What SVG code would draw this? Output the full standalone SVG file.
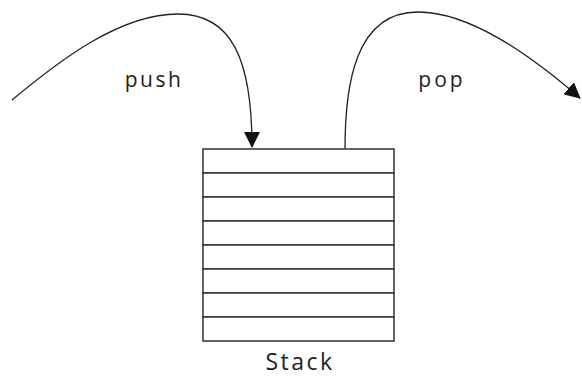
<svg xmlns="http://www.w3.org/2000/svg" width="582" height="377" viewBox="0 0 582 377">
  <style>
    .cell { fill: #ffffff; stroke: #333333; stroke-width: 1.5; }
    .flow { fill: none; stroke: #222222; stroke-width: 1.3; marker-end: url(#head); }
    .lbl { font-family: "Open Sans", "Noto Sans", sans-serif; fill: #1e1e1e; text-anchor: middle; }
  </style>
  <defs>
    <marker id="head" viewBox="0 0 16 16" refX="15" refY="8" markerWidth="16" markerHeight="16" markerUnits="userSpaceOnUse" orient="auto">
      <path d="M0,0 L16,8 L0,16 Z" fill="#111111"/>
    </marker>
  </defs>
  <rect width="582" height="377" fill="#ffffff"/>

  <g id="connectors">
    <path id="push-arrow" class="flow" d="M12,100 C60,60 120,14 178,14 C232,14 252,60 252,147"/>
    <path id="pop-arrow" class="flow" d="M345,149 C345,85 355,12 418,12 C470,12 530,55 580,98"/>
  </g>

  <g id="stack">
    <rect class="cell" x="203" y="149" width="191" height="24"/>
    <rect class="cell" x="203" y="173" width="191" height="24"/>
    <rect class="cell" x="203" y="197" width="191" height="24"/>
    <rect class="cell" x="203" y="221" width="191" height="24"/>
    <rect class="cell" x="203" y="245" width="191" height="24"/>
    <rect class="cell" x="203" y="269" width="191" height="24"/>
    <rect class="cell" x="203" y="293" width="191" height="24"/>
    <rect class="cell" x="203" y="317" width="191" height="24"/>
    <text class="lbl" x="300" y="370" font-size="23" letter-spacing="2.5">Stack</text>
  </g>

  <g id="push-label">
    <text class="lbl" x="154" y="87" font-size="21" letter-spacing="2.5">push</text>
  </g>
  <g id="pop-label">
    <text class="lbl" x="442" y="87" font-size="21" letter-spacing="3">pop</text>
  </g>
</svg>
